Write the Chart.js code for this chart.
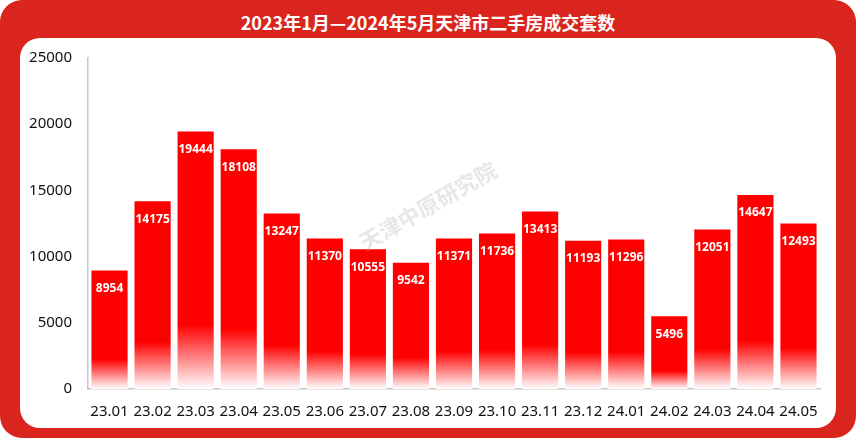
<!DOCTYPE html>
<html><head><meta charset="utf-8">
<script src="https://cdn.jsdelivr.net/npm/chart.js@4"></script>
<style>
body{margin:0;background:#fff;}
#outer{position:relative;width:856px;height:438px;background:#d9251d;border-radius:22px;overflow:hidden;font-family:"Noto Sans CJK SC","Noto Sans",sans-serif;}
#title{position:absolute;left:0;top:8px;width:856px;text-align:center;color:#fff;font-weight:bold;font-size:18px;line-height:28px;}
#panel{position:absolute;left:20px;top:38px;width:816px;height:390px;background:#fff;border-radius:20px;}
canvas{display:block;}
</style></head><body>
<div id="outer"><div id="title">2023年1月—2024年5月天津市二手房成交套数</div>
<div id="panel"><canvas id="c" width="816" height="390"></canvas></div></div>
<script>
const categories=["23.01","23.02","23.03","23.04","23.05","23.06","23.07","23.08","23.09","23.10","23.11","23.12","24.01","24.02","24.03","24.04","24.05"];
const values=[8954,14175,19444,18108,13247,11370,10555,9542,11371,11736,13413,11193,11296,5496,12051,14647,12493];
const yTicks=[0,5000,10000,15000,20000,25000];

const plugin={id:'extras',
 afterDatasetsDraw(chart){
  const ctx=chart.ctx;const meta=chart.getDatasetMeta(0);
  ctx.save();ctx.fillStyle='#fff';ctx.font='bold 12px "Noto Sans", sans-serif';ctx.textAlign='center';ctx.textBaseline='middle';
  meta.data.forEach((b,i)=>{ctx.fillText(String(values[i]),b.x,b.y+18);});
  ctx.restore();
  ctx.save();ctx.translate(408,168);ctx.rotate(-0.52);ctx.fillStyle='rgba(170,170,170,0.28)';
  ctx.font='bold 22px "Noto Sans CJK SC"';ctx.textAlign='center';ctx.textBaseline='middle';ctx.fillText('天津中原研究院',0,0);ctx.restore();
 }};

new Chart(document.getElementById('c'),{type:'bar',
 data:{labels:categories,datasets:[{data:values,barPercentage:0.84,categoryPercentage:1,
  backgroundColor:(c)=>{const ch=c.chart;const s=ch.scales.y;if(!s||!ch.chartArea||c.dataIndex===undefined)return '#ff0000';
   const top=s.getPixelForValue(values[c.dataIndex]);const base=s.getPixelForValue(0);
   const g=ch.ctx.createLinearGradient(0,base,0,top);g.addColorStop(0,'#ffffff');g.addColorStop(0.25,'#ff0000');g.addColorStop(1,'#ff0000');return g;}}]},
 options:{responsive:false,animation:false,events:[],
  layout:{padding:{top:20,right:16,left:0,bottom:1}},
  plugins:{legend:{display:false},tooltip:{enabled:false}},
  scales:{
   x:{grid:{display:false},border:{color:'#c8c8c8',width:1.5},ticks:{color:'#111',font:{size:15,family:'"Noto Sans"'},maxRotation:0,padding:6}},
   y:{min:0,max:25000,afterBuildTicks:(a)=>{a.ticks=yTicks.map(v=>({value:v}));},afterFit:(a)=>{a.width=68;},
      grid:{display:false,drawTicks:true},border:{color:'#c8c8c8',width:1.5},
      ticks:{color:'#111',font:{size:15,family:'"Noto Sans"'},padding:8,callback:(v)=>String(v)}}
  }},plugins:[plugin]});
</script></body></html>
